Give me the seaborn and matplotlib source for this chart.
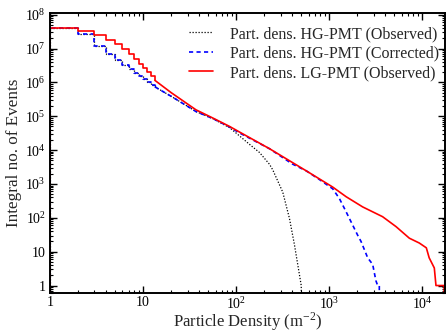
import numpy as np
import matplotlib
matplotlib.use("Agg")
import matplotlib.pyplot as plt
import matplotlib.ticker as mticker
import seaborn as sns

# ---------------- data ----------------
labels = ["Part. dens. HG-PMT (Observed)",
          "Part. dens. HG-PMT (Corrected)",
          "Part. dens. LG-PMT (Observed)"]

# low-density staircase part (value holds from each density to the next)
step_dens = [1, 1, 2, 3, 4, 5, 6, 7, 8, 9, 10, 11, 12.2, 13.4]
hg_obs_step = [0.1, 4.0e7, 2.7e7, 1.2e7, 6.9e6, 4.6e6, 3.3e6, 2.55e6, 1.95e6,
               1.5e6, 1.23e6, 1.03e6, 8.3e5, 7.4e5]
hg_cor_step = [0.1, 4.0e7, 2.7e7, 1.2e7, 6.9e6, 4.6e6, 3.3e6, 2.55e6, 1.95e6,
               1.5e6, 1.23e6, 1.03e6, 8.3e5, 7.4e5]
lg_obs_step = [0.1, 4.0e7, 3.3e7, 2.5e7, 1.82e7, 1.36e7, 9.8e6, 6.9e6, 5.0e6,
               3.55e6, 2.7e6, 2.0e6, 1.5e6, 1.15e6]

# higher-density part
hg_obs_dens = [13.4, 20, 37, 56, 85, 109, 139, 178, 228, 247, 316, 373, 422, 470, 499, 505]
hg_obs_val = [7.4e5, 3.9e5, 1.38e5, 8.5e4, 4.6e4, 2.6e4, 1.48e4, 8.5e3, 3.8e3, 2.6e3,
              575, 96, 16, 2.7, 1, 0.1]

hg_cor_dens = [13.4, 20, 37, 56, 85, 109, 228, 400, 564, 783, 1087, 1283, 1515, 1780,
               2010, 2190, 2580, 2920, 3160, 3300, 3440, 3440]
hg_cor_val = [7.4e5, 3.9e5, 1.38e5, 8.6e4, 4.8e4, 3.2e4, 1.1e4, 3.9e3, 2.45e3, 1.35e3,
              720, 370, 150, 61, 31, 20, 6.6, 4.2, 1.4, 1, 1, 0.1]

lg_obs_dens = [13.4, 20, 37, 56, 85, 109, 228, 564, 1087, 1515, 2280, 3730, 5200, 7230,
               9250, 11000, 11800, 13400, 13960, 17100, 17100]
lg_obs_val = [1.15e6, 5.0e5, 1.55e5, 8.9e4, 5.0e4, 3.4e4, 1.1e4, 2.45e3, 810, 420, 210,
              108, 55, 25, 18, 13, 6.6, 3.3, 1, 1, 0.1]

x_ticks = [1, 10, 100, 1000, 10000]
y_ticks = [1, 10, 1e2, 1e3, 1e4, 1e5, 1e6, 1e7, 1e8]

# ---------------- style ----------------
sns.set_style("ticks")
plt.rcParams["font.family"] = ["Liberation Serif", "DejaVu Serif"]
plt.rcParams["mathtext.fontset"] = "stix"
plt.rcParams["axes.linewidth"] = 1.4

fig = plt.figure(figsize=(4.46, 3.33), dpi=100)
ax = fig.add_axes([0.112, 0.12, 0.886, 0.84])

black_style = dict(color="black", linewidth=0.9, linestyle=(0, (1, 1.4)))
blue_style = dict(color="#0000ff", linewidth=1.2, linestyle=(0, (2.5, 2.0)))
red_style = dict(color="#ff0000", linewidth=1.2, linestyle="-")

series = [
    (hg_obs_step, hg_obs_dens, hg_obs_val, black_style, labels[0]),
    (hg_cor_step, hg_cor_dens, hg_cor_val, blue_style, labels[1]),
    (lg_obs_step, lg_obs_dens, lg_obs_val, red_style, labels[2]),
]
for st_vals, dens, vals, style, lab in series:
    sns.lineplot(x=step_dens, y=st_vals, ax=ax, estimator=None, sort=False,
                 drawstyle="steps-post", label=lab, **style)
    sns.lineplot(x=dens, y=vals, ax=ax, estimator=None, sort=False,
                 legend=False, **style)

ax.set_xscale("log")
ax.set_yscale("log")
ax.set_xlim(1, 1.75e4)
ax.set_ylim(0.6, 1.1e8)


def fmt(v, pos):
    e = int(round(np.log10(v)))
    if e == 0:
        return "1"
    if e == 1:
        return "10"
    return r"$\mathregular{10^{%d}}$" % e


ax.xaxis.set_major_locator(mticker.FixedLocator(x_ticks))
ax.yaxis.set_major_locator(mticker.FixedLocator(y_ticks))
ax.xaxis.set_major_formatter(mticker.FuncFormatter(fmt))
ax.yaxis.set_major_formatter(mticker.FuncFormatter(fmt))
ax.xaxis.set_minor_locator(mticker.LogLocator(base=10, subs=np.arange(2, 10), numticks=20))
ax.yaxis.set_minor_locator(mticker.LogLocator(base=10, subs=np.arange(2, 10), numticks=20))
ax.xaxis.set_minor_formatter(mticker.NullFormatter())
ax.yaxis.set_minor_formatter(mticker.NullFormatter())

ax.tick_params(which="both", direction="in", top=True, right=True, labelsize=10,
               colors="black")
ax.tick_params(which="major", length=5, width=1.0, pad=3)
ax.tick_params(axis="x", which="major", pad=2)
ax.tick_params(which="minor", length=2.5, width=0.8)
for s in ax.spines.values():
    s.set_visible(True)
    s.set_color("black")

ax.set_xlabel(r"Particle Density (m$^{\mathregular{-2}}$)", fontsize=12)
ax.set_ylabel("Integral no. of Events", fontsize=12.3)
ax.xaxis.set_label_coords(0.5, -0.062)
ax.yaxis.set_label_coords(-0.07, 0.5)

ax.legend(loc="upper right", frameon=False, fontsize=11.5, handlelength=1.55,
          handletextpad=1.05, labelspacing=0.22, borderaxespad=0.0,
          borderpad=0.0, bbox_to_anchor=(0.985, 0.955))

fig.savefig("out.png", dpi=100)
